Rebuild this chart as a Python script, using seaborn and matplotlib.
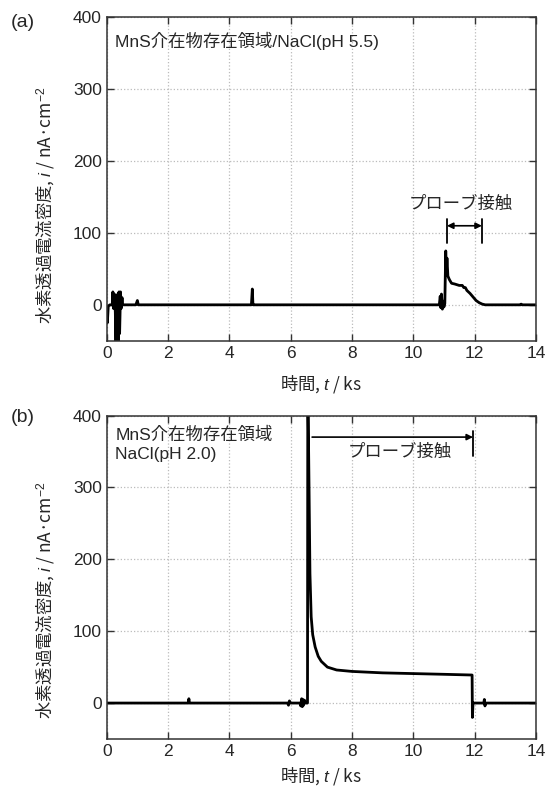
import numpy as np
import pandas as pd
import seaborn as sns
import matplotlib.pyplot as plt

# panel (a): MnS inclusion region / NaCl pH 5.5
t_a = [0, 0.02, 0.05, 0.1, 0.18, 0.2, 0.22, 0.25, 0.28, 0.3, 0.32, 0.34, 0.36, 0.38,
       0.4, 0.42, 0.45, 0.47, 0.5, 0.52, 0.6, 0.95, 1.0, 1.03, 1.1, 4.72, 4.75, 4.77,
       4.8, 10.85, 10.88, 10.9, 10.92, 10.95, 10.98, 11.0, 11.03, 11.06, 11.08, 11.1,
       11.13, 11.18, 11.25, 11.35, 11.5, 11.6, 11.65, 11.7, 11.75, 11.85, 11.95, 12.05,
       12.15, 12.25, 12.35, 13.5, 13.52, 13.55, 14]
i_a = [-5, -25, -2, 0, 0, 18, -5, 15, -10, -55, 10, -55, 15, -55,
       18, -40, 18, -5, 10, 0, 0, 0, 6, 0, 0, 0, 22, 0,
       0, 0, 12, -4, 15, -6, 5, -3, 2, 75, 45, 65,
       40, 35, 30, 29, 27, 27, 24, 24, 20, 16, 11, 6,
       3, 1, 0, 0, 1, 0, 0]

# panel (b): MnS inclusion region / NaCl pH 2.0
t_b = [0, 2.66, 2.68, 2.7, 5.9, 5.93, 5.96, 6.0, 6.3, 6.33, 6.36, 6.38, 6.4, 6.42,
       6.45, 6.48, 6.55, 6.56, 6.6, 6.63, 6.67, 6.72, 6.8, 6.9, 7.0, 7.2, 7.5, 8.0,
       9.0, 10.0, 11.0, 11.92, 11.93, 11.95, 12.3, 12.32, 12.34, 12.36, 14]
i_b = [0, 0, 6, 0, 0, -3, 3, 0, 0, -4, 6, -5, 5, -3,
       4, 0, 0, 450, 300, 180, 120, 95, 78, 65, 58, 50, 46, 44,
       42, 41, 40, 39, -20, 0, 0, 5, -4, 0, 0]

x_ticks = [0, 2, 4, 6, 8, 10, 12, 14]
y_ticks = [0, 100, 200, 300, 400]

sns.set_style("ticks")
plt.rcParams['font.family'] = ['Liberation Sans', 'Noto Sans CJK JP', 'DejaVu Sans']
plt.rcParams['mathtext.fontset'] = 'custom'
plt.rcParams['mathtext.rm'] = 'Liberation Sans'
plt.rcParams['mathtext.it'] = 'Liberation Sans:italic'
plt.rcParams['axes.unicode_minus'] = False

fs = 12.5
cjk = 'Noto Sans CJK JP'

fig = plt.figure(figsize=(5.53, 7.87), dpi=100)
ax_a = fig.add_axes([0.193, 0.567, 0.776, 0.411])
ax_b = fig.add_axes([0.193, 0.061, 0.776, 0.411])

ylab = '水素透過電流密度, $i$ / nA·cm$^{-2}$'
xlab = '時間, $t$ / ks'

for ax, t, i, xl, yl in [(ax_a, t_a, i_a, -0.1, 0.42), (ax_b, t_b, i_b, -0.08, 0.43)]:
    df = pd.DataFrame({'t': t, 'i': i})
    sns.lineplot(data=df, x='t', y='i', ax=ax, sort=False, estimator=None,
                 color='black', lw=2.0)
    ax.set_xlim(0, 14)
    ax.set_ylim(-50, 400)
    ax.set_xticks(x_ticks)
    ax.set_yticks(y_ticks)
    ax.grid(True, ls=':', color='#bbbbbb', lw=0.9)
    ax.tick_params(direction='in', top=True, right=True, labelsize=fs,
                   length=5, width=1, color='#333333')
    for s in ax.spines.values():
        s.set_color('#333333')
        s.set_linewidth(1.1)
    ax.set_xlabel(xlab, fontsize=fs, family=cjk)
    ax.set_ylabel(ylab, fontsize=fs, family=cjk)
    ax.xaxis.set_label_coords(0.5, xl)
    ax.yaxis.set_label_coords(-0.115, yl)

ax_a.text(0.02, 0.955, 'MnS介在物存在領域/NaCl(pH 5.5)', transform=ax_a.transAxes,
          va='top', ha='left', fontsize=fs)
ax_b.text(0.02, 0.965, 'MnS介在物存在領域\nNaCl(pH 2.0)', transform=ax_b.transAxes,
          va='top', ha='left', fontsize=fs, linespacing=1.3)

fig.text(0.02, 0.972, '(a)', fontsize=14, va='center')
fig.text(0.02, 0.469, '(b)', fontsize=14, va='center')

# probe contact markers (a)
ax_a.plot([11.1, 11.1], [86, 119], color='black', lw=1.3)
ax_a.plot([12.24, 12.24], [86, 119], color='black', lw=1.3)
ax_a.annotate('', xy=(11.1, 110), xytext=(12.24, 110),
              arrowprops=dict(arrowstyle='<|-|>', color='black', lw=1.2,
                              mutation_scale=9, shrinkA=0, shrinkB=0))
ax_a.text(11.55, 140, 'プローブ接触', ha='center', va='center', fontsize=fs)

# probe contact markers (b)
ax_b.plot([11.95, 11.95], [344, 378], color='black', lw=1.3)
ax_b.annotate('', xy=(11.95, 370), xytext=(6.7, 370),
              arrowprops=dict(arrowstyle='-|>', color='black', lw=1.2,
                              mutation_scale=9, shrinkA=0, shrinkB=0))
ax_b.text(9.55, 349, 'プローブ接触', ha='center', va='center', fontsize=fs)

fig.savefig('out.png', dpi=100)
